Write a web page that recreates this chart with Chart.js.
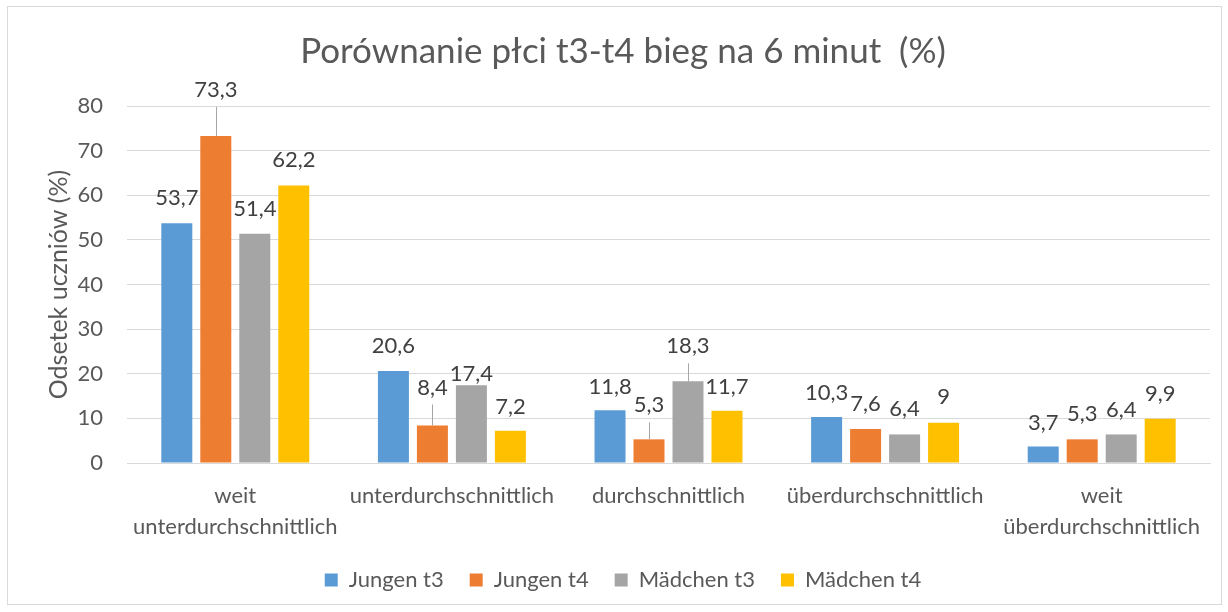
<!DOCTYPE html>
<html>
<head>
<meta charset="utf-8">
<script src="https://cdn.jsdelivr.net/npm/chart.js@4"></script>
<style>
  html, body { margin: 0; padding: 0; background: #fff; }
  #box { width: 1228px; height: 612px; }
</style>
</head>
<body>
<div id="box"><canvas id="chart" width="1228" height="612"></canvas></div>
<script>
// ---- DATA ----
const categories = [
  ["weit", "unterdurchschnittlich"],
  "unterdurchschnittlich",
  "durchschnittlich",
  "überdurchschnittlich",
  ["weit", "überdurchschnittlich"]
];
const seriesNames = ["Jungen t3", "Jungen t4", "Mädchen t3", "Mädchen t4"];
const jungenT3 = [53.7, 20.6, 11.8, 10.3, 3.7];
const jungenT4 = [73.3, 8.4, 5.3, 7.6, 5.3];
const maedchenT3 = [51.4, 17.4, 18.3, 6.4, 6.4];
const maedchenT4 = [62.2, 7.2, 11.7, 9, 9.9];
const yMin = 0, yMax = 80, yStep = 10;

// ---- STYLE ----
const colors = ["#5B9BD5", "#ED7D31", "#A5A5A5", "#FFC000"];
const FONT = "Lato, 'Open Sans', sans-serif";
const textGrey = "#595959";
// vertical shift of each value label from the bar top (px), as placed in the original
const labelShift = [
  [-25, -25, -23, -24, -24],
  [-46, -38, -34, -25, -25],
  [-25, -11, -35, -26, -25],
  [-26, -24, -24, -26, -25]
];
const hasLeader = [
  [false, false, false, false, false],
  [true, true, true, false, false],
  [false, false, true, false, false],
  [false, false, false, false, false]
];

const allSeries = [jungenT3, jungenT4, maedchenT3, maedchenT4];

// frame around the whole chart
const framePlugin = {
  id: "frame",
  beforeDraw(chart) {
    const ctx = chart.ctx;
    ctx.save();
    ctx.fillStyle = "#fff";
    ctx.fillRect(0, 0, chart.width, chart.height);
    ctx.strokeStyle = "#d9d9d9";
    ctx.lineWidth = 1;
    ctx.strokeRect(7.5, 6.5, 1214, 598);
    ctx.restore();
  }
};

// value labels with leader lines
const valueLabels = {
  id: "valueLabels",
  afterDatasetsDraw(chart) {
    const ctx = chart.ctx;
    ctx.save();
    ctx.font = "22px " + FONT;
    ctx.fillStyle = "#404040";
    ctx.textAlign = "center";
    ctx.textBaseline = "middle";
    chart.data.datasets.forEach((ds, i) => {
      const meta = chart.getDatasetMeta(i);
      meta.data.forEach((bar, j) => {
        const v = ds.data[j];
        const y = bar.y + labelShift[i][j];
        ctx.fillText(String(v).replace(".", ","), bar.x, y);
        if (hasLeader[i][j]) {
          ctx.beginPath();
          ctx.strokeStyle = "#a6a6a6";
          ctx.lineWidth = 1;
          ctx.moveTo(Math.round(bar.x) + 0.5, y + 17);
          ctx.lineTo(Math.round(bar.x) + 0.5, bar.y);
          ctx.stroke();
        }
      });
    });
    ctx.restore();
  }
};

new Chart(document.getElementById("chart"), {
  type: "bar",
  data: {
    labels: categories,
    datasets: seriesNames.map((name, i) => ({
      label: name,
      data: allSeries[i],
      backgroundColor: colors[i],
      borderWidth: 0,
      categoryPercentage: 0.72,
      barPercentage: 0.795
    }))
  },
  options: {
    responsive: false,
    animation: false,
    layout: { padding: { top: 31, left: 36, right: 18, bottom: 11 } },
    plugins: {
      title: {
        display: true,
        text: "Porównanie płci t3-t4 bieg na 6 minut  (%)",
        color: textGrey,
        font: { family: FONT, size: 35, weight: "normal" },
        padding: { top: 0, bottom: 33 }
      },
      legend: {
        position: "bottom",
        labels: {
          color: textGrey,
          font: { family: FONT, size: 22 },
          boxWidth: 13,
          boxHeight: 13,
          padding: 26
        }
      },
      tooltip: { enabled: false }
    },
    scales: {
      x: {
        grid: { display: false, drawTicks: false },
        border: { color: "#d9d9d9" },
        ticks: {
          color: textGrey,
          font: { family: FONT, size: 22, lineHeight: 1.4 },
          padding: 18,
          maxRotation: 0,
          autoSkip: false
        },
        afterFit(scale) { scale.height = 80; }
      },
      y: {
        min: yMin,
        max: yMax,
        grid: { color: "#d9d9d9", drawTicks: false },
        border: { display: false },
        ticks: {
          stepSize: yStep,
          color: textGrey,
          font: { family: FONT, size: 22 },
          padding: 24
        },
        title: {
          display: true,
          text: "Odsetek uczniów (%)",
          color: textGrey,
          font: { family: FONT, size: 25 },
          padding: { top: 8, bottom: 0 }
        },
        afterFit(scale) { scale.width = 91; }
      }
    }
  },
  plugins: [framePlugin, valueLabels]
});
</script>
</body>
</html>
